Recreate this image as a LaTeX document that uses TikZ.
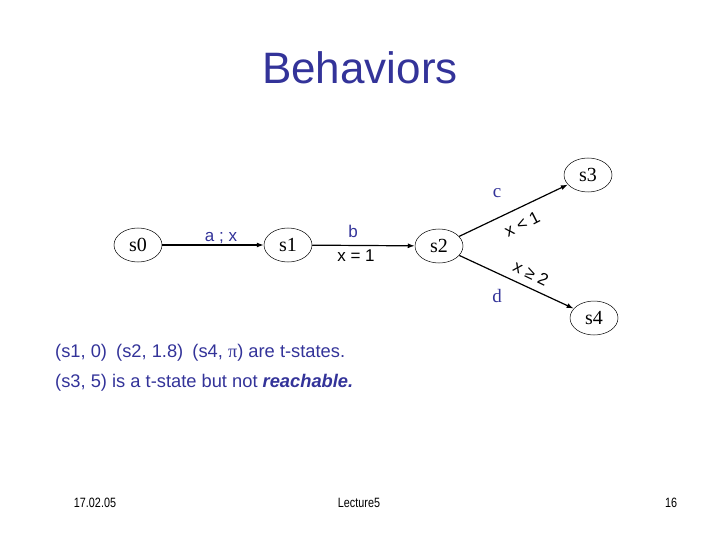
\documentclass[tikz,border=0pt]{standalone}
\usepackage{fontspec}
\usepackage{graphicx}
\setmainfont{Liberation Sans}
\newfontfamily\serifft{Liberation Serif}
\usetikzlibrary{shapes.geometric,arrows.meta}
\definecolor{navy}{HTML}{333399}
\newcommand{\narrowtxt}[1]{\scalebox{0.8}[1]{#1}}
\begin{document}
\begin{tikzpicture}[x=1pt,y=-1pt,
  state/.style={ellipse,draw,line width=0.5pt,minimum width=48pt,minimum height=34pt,inner sep=0pt,font=\serifft\fontsize{20}{20}\selectfont},
  trans/.style={line width=1.2pt,-{Latex[length=7pt,width=5pt]}},
  lbl/.style={font=\fontsize{17}{17}\selectfont,inner sep=0pt},
  body/.style={font=\fontsize{18.3}{19}\selectfont,text=navy,anchor=west,inner sep=0pt},
  foot/.style={font=\fontsize{13.5}{13.5}\selectfont,inner sep=0pt}]
\useasboundingbox (0,0) rectangle (720,540);
\node[font=\fontsize{44}{44}\selectfont,text=navy] (title) at (360,68) {Behaviors};
\node[state] (s0) at (138,245) {s0};
\node[state] (s1) at (288,245) {s1};
\node[state] (s2) at (439,246) {s2};
\node[state] (s3) at (588,175) {s3};
\node[state] (s4) at (594,318) {s4};
\draw[trans] (s0) -- (s1);
\draw[trans] (s1) -- (s2);
\draw[trans] (s2) -- (s3);
\draw[trans] (s2) -- (s4);
\node[lbl,text=navy] (la) at (221,238) {a ; x};
\node[lbl,text=navy] (lb) at (353,231) {b};
\node[lbl] (lx1) at (356,256) {x = 1};
\node[lbl,text=navy,font=\serifft\fontsize{19}{19}\selectfont] (lc) at (497,193) {c};
\node[lbl,rotate=27] (lxl) at (522,224) {x < 1};
\node[lbl,rotate=-26] (lxg) at (531,273) {x ≥ 2};
\node[lbl,text=navy,font=\serifft\fontsize{19}{19}\selectfont] (ld) at (497,296) {d};
\node[body] (t1) at (55,353) {(s1, 0)\enspace (s2, 1.8)\enspace (s4, {\serifft π}) are t-states.};
\node[body] (t2) at (55,383) {(s3, 5) is a t-state but not \textbf{\textit{reachable.}}};
\node[foot] (f1) at (95,503) {\narrowtxt{17.02.05}};
\node[foot] (f2) at (359,503) {\narrowtxt{Lecture5}};
\node[foot] (f3) at (671,503) {\narrowtxt{16}};
\end{tikzpicture}
\end{document}
